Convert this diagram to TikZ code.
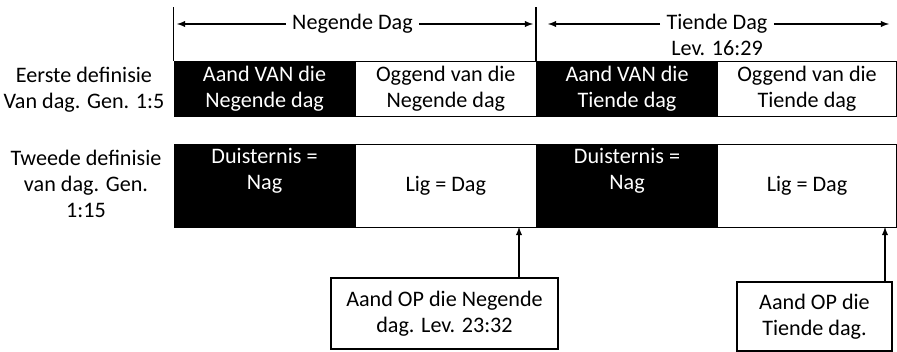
\documentclass[tikz,border=0pt]{standalone}
\usepackage{fontspec}
\setmainfont{Carlito}
\usetikzlibrary{positioning}

\tikzset{
    cell/.style={draw, line width=0.6pt, minimum width=#1, minimum height=1.1cm, inner sep=0pt, align=center},
    tallcell/.style={cell=#1, minimum height=1.66cm},
    dark/.style={fill=black, text=white},
    note/.style={draw, line width=0.6pt, align=center, inner sep=0pt},
    every node/.style={font=\fontsize{12.6}{14.6}\selectfont}
}

\begin{document}
\begin{tikzpicture}[line width=0.6pt]
    \useasboundingbox (0,0) rectangle (17.94,-7.04);
    % top spans
    \coordinate (s0) at (3.47,-0.14);
    \coordinate (s1) at (10.72,-0.14);
    \draw (s0) -- (3.47,-1.22);
    \draw (s1) -- (10.72,-1.22);
    \node (nd) at (7.05,-0.48) {Negende Dag};
    \coordinate (ndl) at (3.54,-0.48);
    \coordinate (ndr) at (10.66,-0.48);
    \draw[-latex] (nd) -- (ndl);
    \draw[-latex] (nd) -- (ndr);
    \node (td) at (14.34,-0.48) {Tiende Dag};
    \coordinate (tdl) at (10.96,-0.48);
    \coordinate (tdr) at (17.78,-0.48);
    \draw[-latex] (td) -- (tdl);
    \draw[-latex] (td) -- (tdr);
    \node at (14.34,-0.96) {Lev. 16:29};
    % first row
    \node[align=center] (r1) at (1.68,-1.8) {Eerste definisie\\Van dag. Gen. 1:5};
    \node[cell=3.62cm, dark, anchor=north west] (a1) at (3.47,-1.22) {Aand VAN die\\Negende dag};
    \node[cell=3.63cm, anchor=north west] (a2) at (7.09,-1.22) {Oggend van die\\Negende dag};
    \node[cell=3.62cm, dark, anchor=north west] (a3) at (10.72,-1.22) {Aand VAN die\\Tiende dag};
    \node[cell=3.58cm, anchor=north west] (a4) at (14.34,-1.22) {Oggend van die\\Tiende dag};
    % second row
    \node[align=center] (r2) at (1.72,-3.68) {Tweede definisie\\van dag. Gen.\\1:15};
    \node[tallcell=3.62cm, dark, anchor=north west] (b1) at (3.47,-2.88) {};
    \node[text=white, align=center] at ([yshift=-0.54cm]b1.north) {Duisternis =\\Nag};
    \node[tallcell=3.63cm, anchor=north west] (b2) at (7.09,-2.88) {Lig = Dag};
    \node[tallcell=3.62cm, dark, anchor=north west] (b3) at (10.72,-2.88) {};
    \node[text=white, align=center] at ([yshift=-0.54cm]b3.north) {Duisternis =\\Nag};
    \node[tallcell=3.58cm, anchor=north west] (b4) at (14.34,-2.88) {Lig = Dag};
    % notes
    \node[note, minimum width=4.54cm, minimum height=1.42cm] (o1) at (8.89,-6.27) {Aand OP die Negende\\dag. Lev. 23:32};
    \node[note, minimum width=3.1cm, minimum height=1.38cm] (o2) at (16.29,-6.33) {Aand OP die\\Tiende dag.};
    \coordinate (p1) at (10.38,-4.54);
    \coordinate (p2) at (17.7,-4.54);
    \draw[-latex] (o1.north -| p1) -- (p1);
    \draw[-latex] (o2.north -| p2) -- (p2);
\end{tikzpicture}
\end{document}
